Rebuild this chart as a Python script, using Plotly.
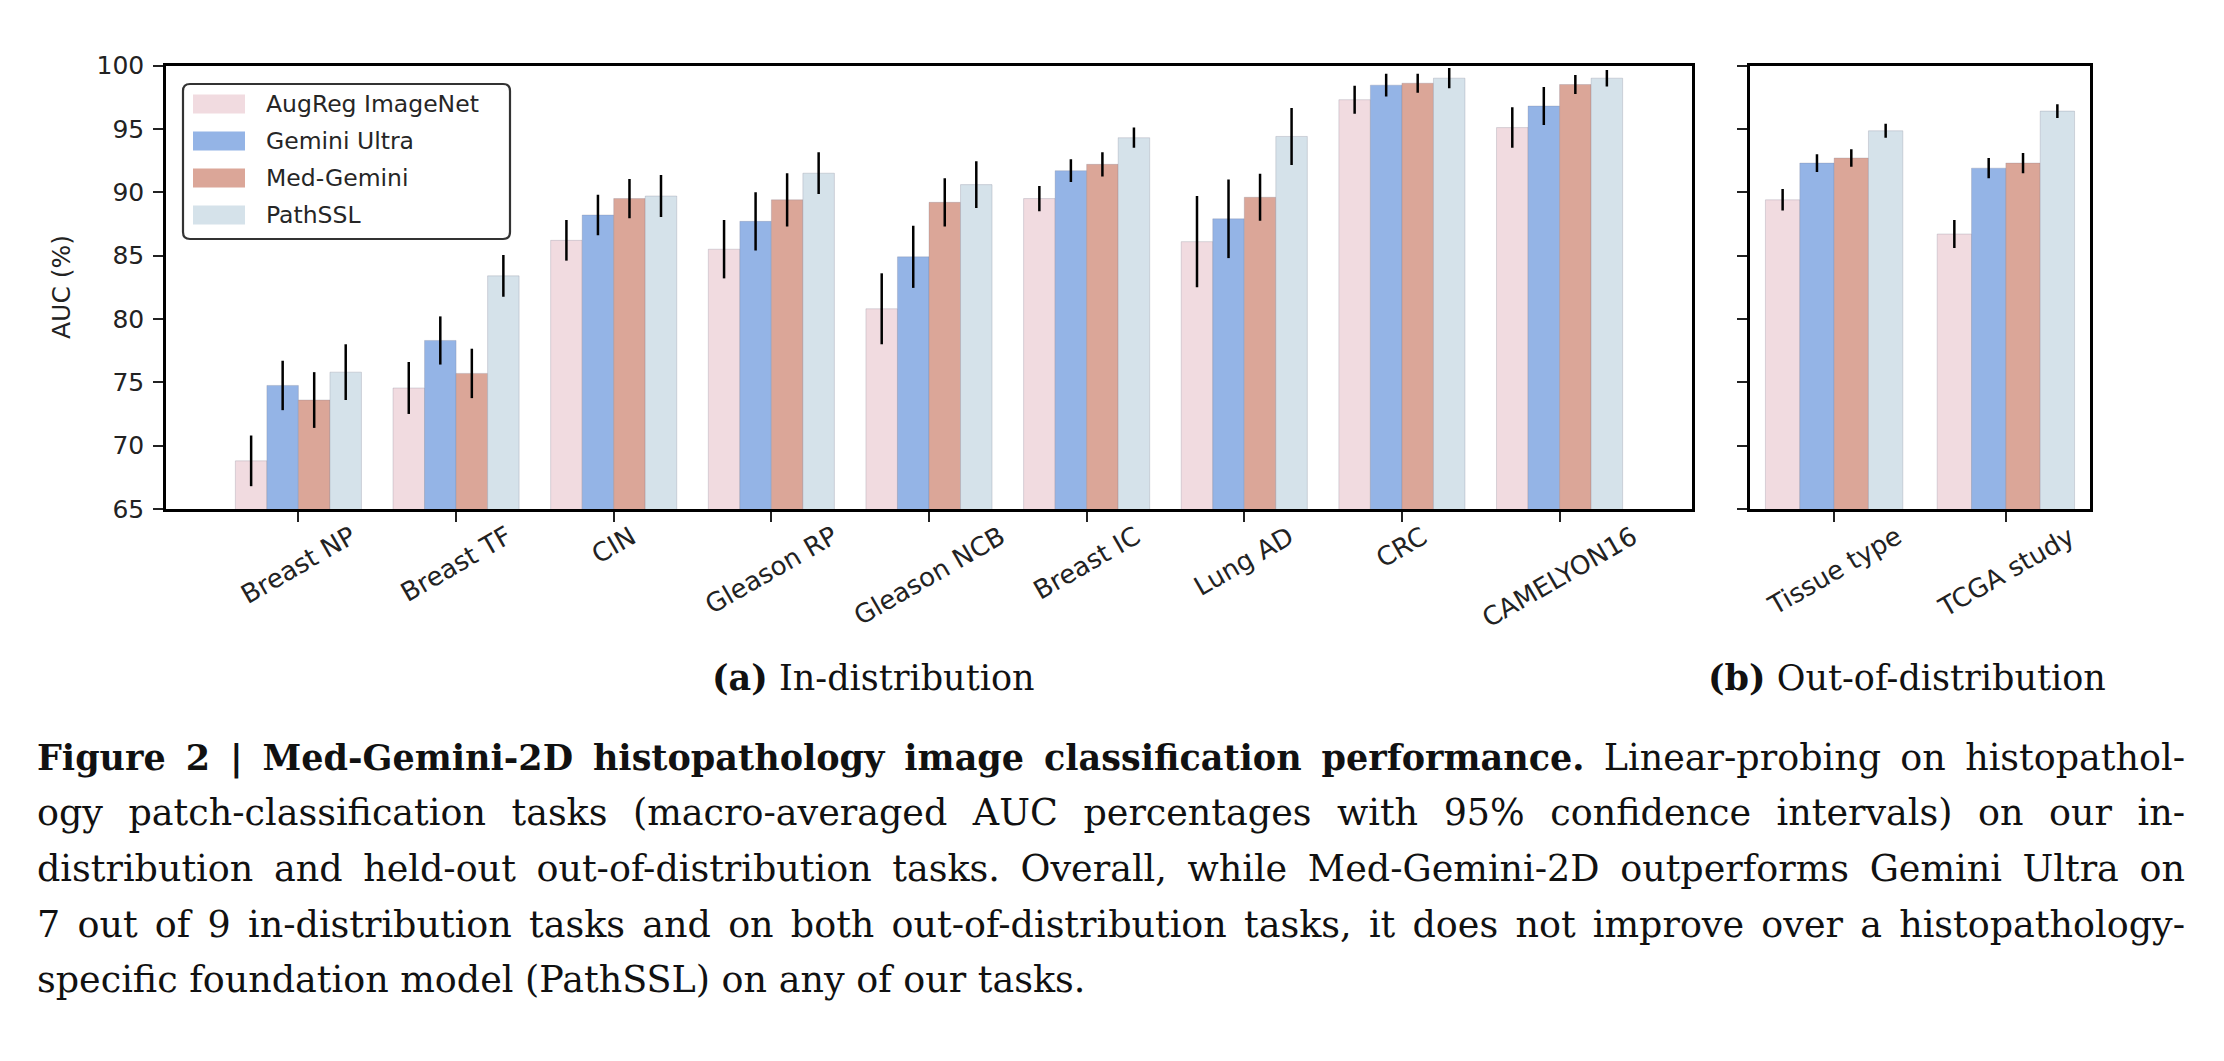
import plotly.graph_objects as go

W, H = 2224, 1061

# ---------------- data ----------------
series_names = ["AugReg ImageNet", "Gemini Ultra", "Med-Gemini", "PathSSL"]
series_colors = ["#f1dbe0", "#94b4e6", "#dba698", "#d5e2ea"]

categories_id = ["Breast NP", "Breast TF", "CIN", "Gleason RP", "Gleason NCB",
                 "Breast IC", "Lung AD", "CRC", "CAMELYON16"]
categories_ood = ["Tissue type", "TCGA study"]

augreg_id = [68.8, 74.55, 86.2, 85.5, 80.8, 89.5, 86.1, 97.3, 95.1]
augreg_id_err = [2.0, 2.05, 1.6, 2.3, 2.8, 1.0, 3.6, 1.1, 1.6]
gemini_id = [74.75, 78.3, 88.2, 87.7, 84.9, 91.7, 87.9, 98.45, 96.8]
gemini_id_err = [1.95, 1.9, 1.6, 2.3, 2.45, 0.9, 3.1, 0.9, 1.5]
med_id = [73.6, 75.7, 89.5, 89.4, 89.2, 92.2, 89.6, 98.6, 98.5]
med_id_err = [2.2, 1.95, 1.55, 2.1, 1.9, 0.95, 1.85, 0.75, 0.75]
path_id = [75.8, 83.4, 89.7, 91.5, 90.6, 94.3, 94.4, 99.0, 99.0]
path_id_err = [2.2, 1.65, 1.65, 1.65, 1.85, 0.8, 2.25, 0.8, 0.65]

augreg_ood = [89.4, 86.7]
augreg_ood_err = [0.85, 1.1]
gemini_ood = [92.3, 91.9]
gemini_ood_err = [0.7, 0.8]
med_ood = [92.7, 92.3]
med_ood_err = [0.7, 0.8]
path_ood = [94.85, 96.4]
path_ood_err = [0.55, 0.55]

y_ticks = [65, 70, 75, 80, 85, 90, 95, 100]
y_title = "AUC (%)"
panel_a_label = "<b>(a)</b> In-distribution"
panel_b_label = "<b>(b)</b> Out-of-distribution"
caption_lines = [
    "<span style=\"font-size:35px\"><b>Figure 2 | Med-Gemini-2D histopathology image classification performance.</b></span> Linear-probing on histopathol-",
    "ogy patch-classification tasks (macro-averaged AUC percentages with 95% confidence intervals) on our in-",
    "distribution and held-out out-of-distribution tasks. Overall, while Med-Gemini-2D outperforms Gemini Ultra on",
    "7 out of 9 in-distribution tasks and on both out-of-distribution tasks, it does not improve over a histopathology-",
    "specific foundation model (PathSSL) on any of our tasks.",
]

id_values = [augreg_id, gemini_id, med_id, path_id]
id_errors = [augreg_id_err, gemini_id_err, med_id_err, path_id_err]
ood_values = [augreg_ood, gemini_ood, med_ood, path_ood]
ood_errors = [augreg_ood_err, gemini_ood_err, med_ood_err, path_ood_err]


def px(x):
    return x / W


def py(y):
    return 1 - y / H


fig = go.Figure()

for name, col, vals, errs in zip(series_names, series_colors, id_values, id_errors):
    fig.add_trace(go.Bar(
        x=categories_id, y=vals, name=name, marker_color=col,
        marker_line=dict(width=1, color="rgba(120,120,140,0.25)"),
        xaxis="x", yaxis="y", showlegend=False,
        error_y=dict(type="data", array=errs, symmetric=True, color="black",
                     thickness=2.5, width=0),
    ))
for name, col, vals, errs in zip(series_names, series_colors, ood_values, ood_errors):
    fig.add_trace(go.Bar(
        x=categories_ood, y=vals, name=name, marker_color=col,
        marker_line=dict(width=1, color="rgba(120,120,140,0.25)"),
        xaxis="x2", yaxis="y2", showlegend=False,
        error_y=dict(type="data", array=errs, symmetric=True, color="black",
                     thickness=2.5, width=0),
    ))

axis_common = dict(showline=True, linecolor="black", linewidth=2.5, mirror=True,
                   ticks="outside", ticklen=10, tickwidth=2, tickcolor="#222",
                   showgrid=False, zeroline=False, automargin=False)

ydom = [py(509), py(65.5)]
fig.update_layout(
    width=W, height=H, autosize=False,
    margin=dict(l=0, r=0, t=0, b=0, pad=0, autoexpand=False),
    showlegend=False,
    paper_bgcolor="white", plot_bgcolor="white",
    font=dict(family="DejaVu Sans", size=25, color="#222"),
    barmode="group", bargap=0.2, bargroupgap=0,
    xaxis=dict(domain=[px(166), px(1692)], range=[-0.84, 8.84], anchor="y",
               showticklabels=False, type="category", **axis_common),
    yaxis=dict(domain=ydom, range=[65, 100], anchor="x", tickvals=y_ticks,
               tickfont=dict(size=25, color="#222"), ticklabelstandoff=4,
               **axis_common),
    xaxis2=dict(domain=[px(1750), px(2090)], range=[-0.49, 1.49], anchor="y2",
                showticklabels=False, type="category", **axis_common),
    yaxis2=dict(domain=ydom, range=[65, 100], anchor="x2", tickvals=y_ticks,
                showticklabels=False, **axis_common),
)

annotations = []
# rotated category labels, centred under each tick
for cats, xr in [(categories_id, "x"), (categories_ood, "x2")]:
    for c in cats:
        annotations.append(dict(
            x=c, xref=xr, y=py(518), yref="paper", text=c, showarrow=False,
            textangle=-30, xanchor="center", yanchor="top",
            font=dict(family="DejaVu Sans", size=26, color="#222"),
        ))

# y-axis title
annotations.append(dict(x=px(62), y=py(287), xref="paper", yref="paper",
                        text=y_title, showarrow=False, textangle=-90,
                        xanchor="center", yanchor="middle",
                        font=dict(family="DejaVu Sans", size=25, color="#222")))

# custom legend
legend_rows = [104, 141, 178, 215]
shapes = []
for name, col, yc in zip(series_names, series_colors, legend_rows):
    shapes.append(dict(type="rect", xref="paper", yref="paper",
                       x0=px(193), x1=px(245), y0=py(yc + 9.5), y1=py(yc - 9.5),
                       fillcolor=col, line=dict(width=0)))
    annotations.append(dict(x=px(264), y=py(yc), xref="paper", yref="paper",
                            text=name, showarrow=False, xanchor="left",
                            yanchor="middle",
                            font=dict(family="DejaVu Sans", size=23.5, color="#262626")))

# rounded legend frame
bx0, bx1, by0, by1, r = 183, 510, 84, 239, 7
path = (f"M {px(bx0 + r)},{py(by0)} L {px(bx1 - r)},{py(by0)} "
        f"Q {px(bx1)},{py(by0)} {px(bx1)},{py(by0 + r)} "
        f"L {px(bx1)},{py(by1 - r)} Q {px(bx1)},{py(by1)} {px(bx1 - r)},{py(by1)} "
        f"L {px(bx0 + r)},{py(by1)} Q {px(bx0)},{py(by1)} {px(bx0)},{py(by1 - r)} "
        f"L {px(bx0)},{py(by0 + r)} Q {px(bx0)},{py(by0)} {px(bx0 + r)},{py(by0)} Z")
shapes.append(dict(type="path", xref="paper", yref="paper", path=path,
                   line=dict(color="#333", width=2.2), fillcolor="rgba(0,0,0,0)"))

# sub-figure labels
serif = "DejaVu Serif"
annotations.append(dict(x=px(873), y=py(677), xref="paper", yref="paper",
                        text=panel_a_label, showarrow=False, xanchor="center",
                        yanchor="middle", font=dict(family=serif, size=35, color="#111")))
annotations.append(dict(x=px(1907), y=py(677), xref="paper", yref="paper",
                        text=panel_b_label, showarrow=False, xanchor="center",
                        yanchor="middle", font=dict(family=serif, size=35, color="#111")))

# caption
caption_centers = [757, 812.7, 868.4, 924.1, 979.8]
caption_start = len(annotations)
for line, yc in zip(caption_lines, caption_centers):
    annotations.append(dict(x=px(35), y=py(yc), xref="paper", yref="paper",
                            text=line, showarrow=False, xanchor="left",
                            yanchor="middle", align="left",
                            font=dict(family=serif, size=36.5, color="#111")))

fig.update_layout(annotations=annotations, shapes=shapes)

# justify the first four caption lines (stretch word spacing to the right edge)
justify_idx = [caption_start + i for i in range(4)]
post_js = """
var gd = document.getElementById('{plot_id}');
var idx = %s;
var target = %d;
idx.forEach(function(i){
  var g = gd.querySelector('.annotation[data-index="' + i + '"]');
  if(!g) return;
  var t = g.querySelector('text.annotation-text');
  if(!t) return;
  var n = (t.textContent.match(/ /g) || []).length;
  var w = t.getComputedTextLength();
  if(n > 0 && w < target){ t.style.wordSpacing = ((target - w) / n) + 'px'; }
});
""" % (str(justify_idx), 2148)

fig.write_html("out.html", post_script=post_js)
